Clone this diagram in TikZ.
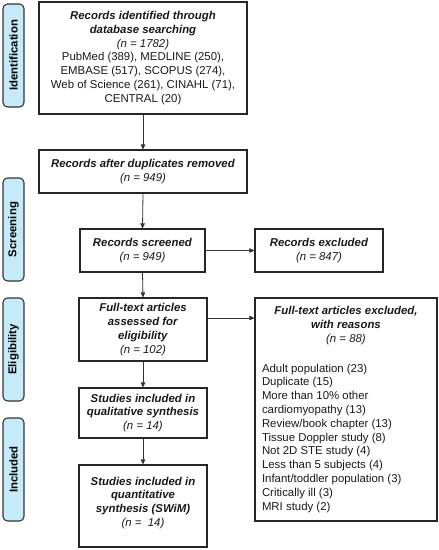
\documentclass[tikz,border=0pt]{standalone}
\usepackage{fontspec}
\setmainfont{Liberation Sans}
\usetikzlibrary{arrows.meta}
\definecolor{sideblue}{HTML}{C5EBFA}
\newcommand\bfitx[1]{\textbf{\textit{#1}}}
\begin{document}
\begin{tikzpicture}[x=1pt,y=-1pt,
  box/.style={draw=black!85, line width=1.1pt, align=center, inner sep=2pt,
    font=\fontsize{11.4}{13.8}\selectfont, text=black!90},
  side/.style={draw=black!80, line width=1.1pt, fill=sideblue, rounded corners=4.5pt,
    font=\bfseries\fontsize{11.4}{13.8}\selectfont, rotate=90,
    minimum height=21pt, minimum width=103pt, inner sep=0pt},
  arr/.style={-{Triangle[length=5pt,width=4.5pt]}, line width=0.8pt, draw=black!80}]
\useasboundingbox (0,0) rectangle (439,550);

% side labels
\node[side] (s1) at (13.5,55.5) {Identification};
\node[side] (s2) at (13.5,229.5) {Screening};
\node[side] (s3) at (13.5,349.5) {Eligibility};
\node[side] (s4) at (13.5,469.5) {Included};

% boxes
\node[box, minimum width=208pt, minimum height=112pt] (b1) at (143,58)
  {\bfitx{Records identified through}\\ \bfitx{database searching}\\ \textit{(n = 1782)}\\
   PubMed (389), MEDLINE (250),\\ EMBASE (517), SCOPUS (274),\\
   Web of Science (261), CINAHL (71),\\ CENTRAL (20)};
\node[box, minimum width=208pt, minimum height=43pt] (b2) at (143,171.5)
  {\bfitx{Records after duplicates removed}\\ \textit{(n = 949)}};
\node[box, minimum width=125pt, minimum height=43pt] (b3) at (142.5,250.5)
  {\bfitx{Records screened}\\ \textit{(n = 949)}};
\node[box, minimum width=128pt, minimum height=43pt] (b4) at (319,250.5)
  {\bfitx{Records excluded}\\ \textit{(n = 847)}};
\node[box, minimum width=128pt, minimum height=63pt] (b5) at (143,329.5)
  {\bfitx{Full-text articles}\\ \bfitx{assessed for}\\ \bfitx{eligibility}\\ \textit{(n = 102)}};
\node[box, align=none, text width=168pt, inner xsep=7pt, inner ysep=2pt,
      minimum width=182pt, minimum height=223pt] (b6) at (346,409.5)
  {\centering\bfitx{Full-text articles excluded,}\\ \bfitx{with reasons}\\ \textit{(n = 88)}\par
   \vskip16pt\raggedright
   Adult population (23)\\ Duplicate (15)\\ More than 10\% other\\ cardiomyopathy (13)\\
   Review/book chapter (13)\\ Tissue Doppler study (8)\\ Not 2D STE study (4)\\
   Less than 5 subjects (4)\\ Infant/toddler population (3)\\ Critically ill (3)\\ MRI study (2)\par};
\node[box, minimum width=128pt, minimum height=50pt] (b7) at (143,413)
  {\bfitx{Studies included in}\\ \bfitx{qualitative synthesis}\\ \textit{(n = 14)}};
\node[box, minimum width=128pt, minimum height=82pt] (b8) at (143,506)
  {\bfitx{Studies included in}\\ \bfitx{quantitative}\\ \bfitx{synthesis (SWiM)}\\ \textit{(n =\ \ 14)}\\[-5pt]};

% connectors
\draw[arr] (b1.south) -- (b2.north);
\draw[arr] (b2.south) -- (b3.north);
\draw[arr] (b3.east) -- (b4.west);
\draw[arr] (b3.south) -- (b5.north);
\coordinate (c5) at ([yshift=11.5pt]b5.east);
\draw[arr] (c5) -- (c5 -| b6.west);
\draw[arr] (b5.south) -- (b7.north);
\draw[arr] (b7.south) -- (b8.north);
\end{tikzpicture}
\end{document}
